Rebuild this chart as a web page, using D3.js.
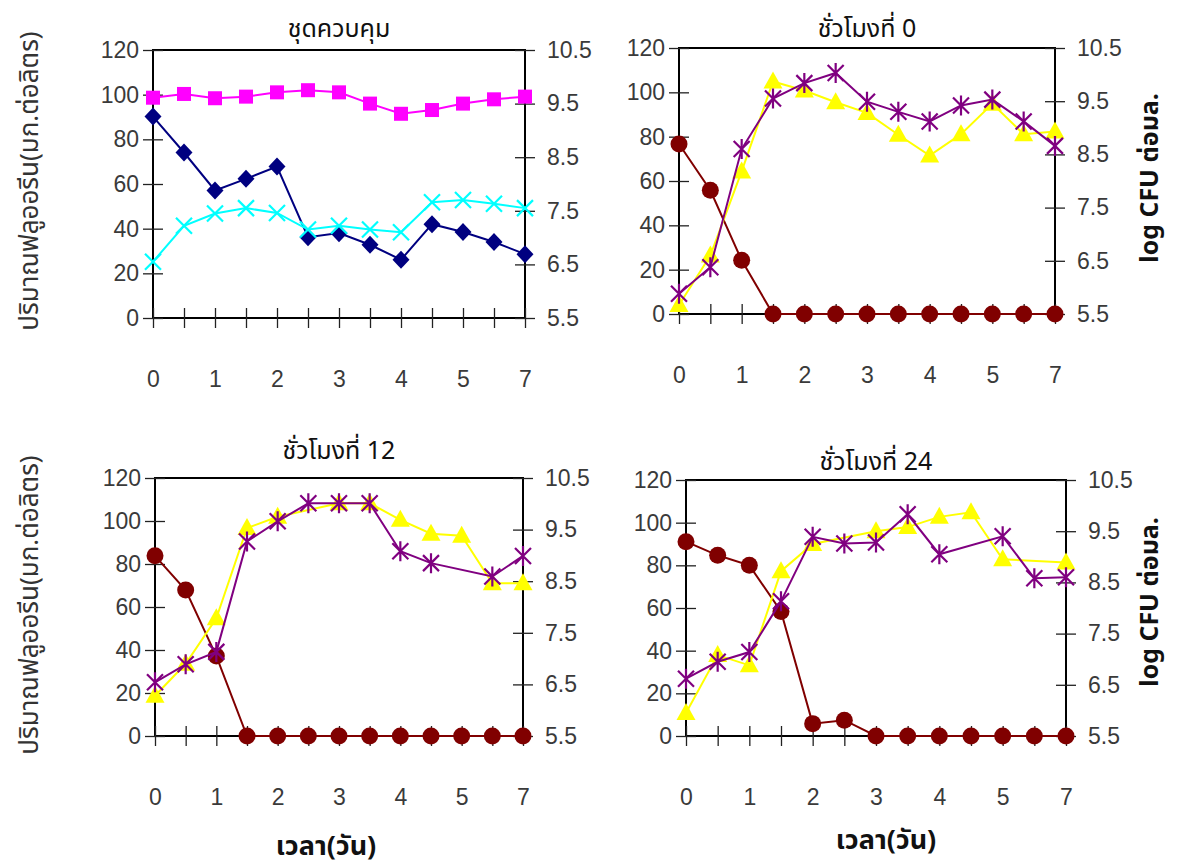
<!DOCTYPE html>
<html>
<head>
<meta charset="utf-8">
<script src="https://cdn.jsdelivr.net/npm/d3@7"></script>
<style>
  body { margin: 0; background: #fff; }
  .tick text { font-family: "Liberation Sans", Arial, sans-serif; font-size: 23px; fill: #3a3a3a; }
  .thai { font-family: "Noto Sans Thai", "Loma", "Garuda", "Waree", "Tlwg Typo", "DejaVu Sans", sans-serif; fill: #111; }
</style>
</head>
<body>
<div id="chart"></div>
<script>
// ============ DATA ============
// x categories: 13 sampling points, labelled every second point
const xLabels = ["0", "", "1", "", "2", "", "3", "", "4", "", "5", "", "7"];

// panel titles
const titles = ["ชุดควบคุม", "ชั่วโมงที่ 0", "ชั่วโมงที่ 12", "ชั่วโมงที่ 24"];

// axis titles
const yLeftTitle = "ปริมาณฟลูออรีน(มก.ต่อลิตร)";
const yRightTitle = "log CFU ต่อมล.";
const xTitle = "เวลา(วัน)";

// axis ticks
const leftTicks = [0, 20, 40, 60, 80, 100, 120];
const rightTicks = [5.5, 6.5, 7.5, 8.5, 9.5, 10.5];

// control panel (left axis: fluoride, right axis: log CFU)
const ctrlDiamond = [90.2, 74.1, 57.1, 62.3, 67.8, 36.2, 38.0, 32.8, 26.1, 42.0, 38.5, 34.0, 28.6];
const ctrlSquare = [9.61, 9.68, 9.60, 9.63, 9.71, 9.75, 9.71, 9.50, 9.31, 9.38, 9.50, 9.58, 9.63];
const ctrlCross = [6.55, 7.22, 7.45, 7.55, 7.46, 7.15, 7.22, 7.15, 7.10, 7.66, 7.70, 7.63, 7.55];

// hour 0
const h0Circle = [76.7, 55.8, 24.2, 0, 0, 0, 0, 0, 0, 0, 0, 0, 0];
const h0Triangle = [5.67, 6.60, 8.18, 9.87, 9.70, 9.48, 9.28, 8.87, 8.48, 8.88, 9.45, 8.88, 8.93];
const h0Star = [5.88, 6.38, 8.60, 9.55, 9.84, 10.03, 9.49, 9.30, 9.12, 9.42, 9.53, 9.12, 8.66];

// hour 12
const h12Circle = [83.8, 67.9, 37.2, 0, 0, 0, 0, 0, 0, 0, 0, 0, 0];
const h12Triangle = [6.28, 6.90, 7.78, 9.53, 9.75, null, 10.01, 10.01, 9.69, 9.42, 9.38, 8.46, 8.46];
const h12Star = [6.54, 6.89, 7.13, 9.27, 9.66, 10.01, 10.01, 10.01, 9.08, 8.85, null, 8.59, 8.99];

// hour 24
const h24Circle = [91.1, 84.7, 80.0, 58.4, 5.8, 7.4, 0, 0, 0, 0, 0, 0, 0];
const h24Triangle = [5.95, 7.08, 6.88, 8.72, 9.25, null, 9.50, 9.58, 9.78, 9.87, 8.95, null, 8.89];
const h24Star = [6.62, 6.95, 7.14, 8.13, 9.39, 9.26, 9.28, 9.83, 9.05, null, 9.40, 8.58, 8.60];

// ============ LAYOUT ============
const svg = d3.select("#chart")
    .append("svg")
    .attr("width", 1186)
    .attr("height", 865)
    .style("background", "#fff");

// plot frame of each panel: left, right, top, bottom
const panels = [
    {box: [153, 525, 50, 318], title: titles[0], titleY: 29,
     series: [
        {values: ctrlSquare, axis: "right", color: "#ff00ff", marker: "square"},
        {values: ctrlDiamond, axis: "left", color: "#000080", marker: "diamond"},
        {values: ctrlCross, axis: "right", color: "#00ffff", marker: "cross"}
     ]},
    {box: [679, 1055, 48, 314], title: titles[1], titleY: 29,
     series: [
        {values: h0Circle, axis: "left", color: "#800000", marker: "circle"},
        {values: h0Triangle, axis: "right", color: "#ffff00", marker: "triangle"},
        {values: h0Star, axis: "right", color: "#800080", marker: "star"}
     ]},
    {box: [155, 523, 478, 736], title: titles[2], titleY: 451,
     series: [
        {values: h12Circle, axis: "left", color: "#800000", marker: "circle"},
        {values: h12Triangle, axis: "right", color: "#ffff00", marker: "triangle"},
        {values: h12Star, axis: "right", color: "#800080", marker: "star"}
     ]},
    {box: [686, 1066, 480, 736], title: titles[3], titleY: 462,
     series: [
        {values: h24Circle, axis: "left", color: "#800000", marker: "circle"},
        {values: h24Triangle, axis: "right", color: "#ffff00", marker: "triangle"},
        {values: h24Star, axis: "right", color: "#800080", marker: "star"}
     ]}
];

// draw one marker centred on (0,0)
function drawMarker(g, type, color) {
    if (type === "circle") {
        g.append("circle").attr("r", 8.5).attr("fill", color);
    } else if (type === "square") {
        g.append("rect").attr("x", -7).attr("y", -7).attr("width", 14).attr("height", 14).attr("fill", color);
    } else if (type === "diamond") {
        g.append("path").attr("d", "M0,-9L8.5,0L0,9L-8.5,0Z").attr("fill", color);
    } else if (type === "triangle") {
        g.append("path").attr("d", "M0,-10L9.5,7L-9.5,7Z").attr("fill", color);
    } else if (type === "cross") {
        g.append("path").attr("d", "M-8,-8L8,8M-8,8L8,-8")
            .attr("stroke", color).attr("stroke-width", 2.2).attr("fill", "none");
    } else if (type === "star") {
        g.append("path").attr("d", "M-8,-8L8,8M-8,8L8,-8M0,-10L0,10")
            .attr("stroke", color).attr("stroke-width", 2.2).attr("fill", "none");
    }
}

panels.forEach(function(p) {
    const [x0, x1, y0, y1] = p.box;

    // Scales
    const x = d3.scalePoint()
        .domain(d3.range(xLabels.length))
        .range([x0, x1]);

    const yLeft = d3.scaleLinear()
        .domain([0, 120])
        .range([y1, y0]);

    const yRight = d3.scaleLinear()
        .domain([5.5, 10.5])
        .range([y1, y0]);

    // Plot frame
    svg.append("rect")
        .attr("x", x0)
        .attr("y", y0)
        .attr("width", x1 - x0)
        .attr("height", y1 - y0)
        .attr("fill", "none")
        .attr("stroke", "#000")
        .attr("stroke-width", 2);

    // Left axis (ticks cross the axis line)
    const gl = svg.append("g")
        .attr("transform", `translate(${x0},0)`)
        .call(d3.axisLeft(yLeft).tickValues(leftTicks).tickSize(10).tickPadding(4));
    gl.select(".domain").remove();
    gl.selectAll(".tick line").attr("x1", 10).attr("stroke", "#222").attr("stroke-width", 1.3);

    // Right axis
    const gr = svg.append("g")
        .attr("transform", `translate(${x1},0)`)
        .call(d3.axisRight(yRight).tickValues(rightTicks).tickFormat(d3.format(".1f")).tickSize(10).tickPadding(12));
    gr.select(".domain").remove();
    gr.selectAll(".tick line").attr("x1", -10).attr("stroke", "#222").attr("stroke-width", 1.3);

    // Bottom axis
    const gb = svg.append("g")
        .attr("transform", `translate(0,${y1})`)
        .call(d3.axisBottom(x).tickFormat(i => xLabels[i]).tickSize(10).tickPadding(43));
    gb.select(".domain").remove();
    gb.selectAll(".tick line").attr("y1", -10).attr("stroke", "#222").attr("stroke-width", 1.3);

    // Panel title
    svg.append("text")
        .attr("class", "thai")
        .attr("x", (x0 + x1) / 2)
        .attr("y", p.titleY)
        .attr("text-anchor", "middle")
        .attr("dominant-baseline", "central")
        .style("font-size", "25px")
        .text(p.title);

    // Series: line first, then markers
    p.series.forEach(function(s) {
        const y = s.axis === "left" ? yLeft : yRight;
        const pts = s.values
            .map((v, i) => ({i: i, v: v}))
            .filter(d => d.v !== null);

        const line = d3.line()
            .x(d => x(d.i))
            .y(d => y(d.v));

        svg.append("path")
            .datum(pts)
            .attr("fill", "none")
            .attr("stroke", s.color)
            .attr("stroke-width", 2)
            .attr("d", line);

        pts.forEach(function(d) {
            const g = svg.append("g")
                .attr("transform", `translate(${x(d.i)},${y(d.v)})`);
            drawMarker(g, s.marker, s.color);
        });
    });
});

// Left axis titles
[181, 605].forEach(function(cy) {
    svg.append("text")
        .attr("class", "thai")
        .attr("transform", `translate(30,${cy}) rotate(-90)`)
        .attr("text-anchor", "middle")
        .attr("dominant-baseline", "central")
        .style("font-size", "26px")
        .style("fill", "#333")
        .text(yLeftTitle);
});

// Right axis titles
[178, 602].forEach(function(cy) {
    svg.append("text")
        .attr("class", "thai")
        .attr("transform", `translate(1150,${cy}) rotate(-90)`)
        .attr("text-anchor", "middle")
        .attr("dominant-baseline", "central")
        .style("font-size", "25px")
        .style("font-weight", "bold")
        .text(yRightTitle);
});

// Bottom axis titles
[[326, 846], [886, 840]].forEach(function(pos) {
    svg.append("text")
        .attr("class", "thai")
        .attr("x", pos[0])
        .attr("y", pos[1])
        .attr("text-anchor", "middle")
        .attr("dominant-baseline", "central")
        .style("font-size", "27px")
        .style("font-weight", "bold")
        .text(xTitle);
});
</script>
</body>
</html>
